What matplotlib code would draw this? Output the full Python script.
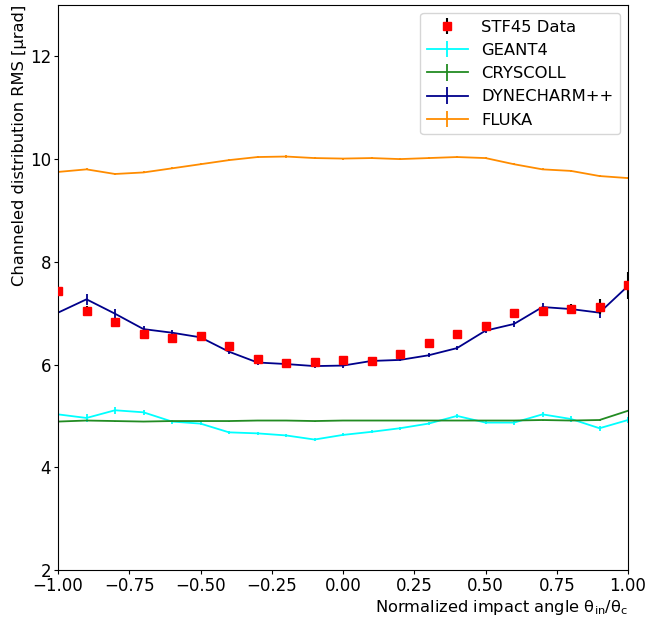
import matplotlib
matplotlib.use("Agg")
import matplotlib.pyplot as plt
import numpy as np

plt.rcParams['mathtext.default'] = 'regular'

angles = np.round(np.linspace(-1.0, 1.0, 21), 2)

data_vals = [7.43, 7.04, 6.82, 6.59, 6.51, 6.55, 6.36, 6.10, 6.03, 6.05, 6.09,
             6.06, 6.20, 6.42, 6.59, 6.76, 7.01, 7.04, 7.08, 7.13, 7.54]
data_err = [0.06, 0.10, 0.08, 0.06, 0.05, 0.05, 0.05, 0.04, 0.04, 0.04, 0.05,
            0.04, 0.05, 0.05, 0.05, 0.06, 0.07, 0.08, 0.10, 0.15, 0.26]

geant4 = [5.03, 4.96, 5.11, 5.07, 4.89, 4.85, 4.68, 4.66, 4.62, 4.54, 4.63,
          4.69, 4.76, 4.85, 5.00, 4.87, 4.87, 5.03, 4.94, 4.76, 4.92]
geant4_err = [0.04, 0.07, 0.07, 0.05, 0.04, 0.03, 0.03, 0.03, 0.03, 0.03, 0.03,
              0.03, 0.03, 0.03, 0.04, 0.03, 0.04, 0.05, 0.05, 0.05, 0.06]

cryscoll = [4.89, 4.91, 4.90, 4.89, 4.90, 4.90, 4.90, 4.91, 4.91, 4.90, 4.91,
            4.91, 4.91, 4.91, 4.91, 4.91, 4.91, 4.92, 4.91, 4.92, 5.10]
cryscoll_err = [0.01] * 21

dynecharm = [7.01, 7.27, 6.99, 6.69, 6.62, 6.53, 6.25, 6.04, 6.01, 5.97, 5.98,
             6.07, 6.09, 6.18, 6.32, 6.66, 6.79, 7.12, 7.08, 7.01, 7.53]
dynecharm_err = [0.05, 0.11, 0.09, 0.06, 0.05, 0.04, 0.04, 0.04, 0.04, 0.04, 0.04,
                 0.03, 0.03, 0.04, 0.04, 0.05, 0.06, 0.08, 0.08, 0.10, 0.12]

fluka = [9.75, 9.80, 9.71, 9.74, 9.82, 9.90, 9.98, 10.04, 10.05, 10.02, 10.01,
         10.02, 10.00, 10.02, 10.04, 10.02, 9.90, 9.80, 9.77, 9.67, 9.63]
fluka_err = [0.02] * 21

fig = plt.figure(figsize=(6.48, 6.18), dpi=100)
ax = fig.add_axes([58/648, 48/618, 570/648, 565/618])

h_g = ax.errorbar(angles, geant4, yerr=geant4_err, color='cyan', lw=1.3, label='GEANT4')
h_c = ax.errorbar(angles, cryscoll, yerr=cryscoll_err, color='forestgreen', lw=1.3, label='CRYSCOLL')
h_d = ax.errorbar(angles, dynecharm, yerr=dynecharm_err, color='darkblue', lw=1.3, label='DYNECHARM++')
h_f = ax.errorbar(angles, fluka, yerr=fluka_err, color='darkorange', lw=1.3, label='FLUKA')
h_data = ax.errorbar(angles, data_vals, yerr=data_err, fmt='s', color='red', ecolor='black',
                     elinewidth=1.5, markersize=6, label='STF45 Data', zorder=3)

ax.set_xlim(-1, 1)
ax.set_ylim(2, 13)
ax.set_yticks([2, 4, 6, 8, 10, 12])
ax.tick_params(labelsize=12, length=3, pad=2)
ax.set_xlabel(r'Normalized impact angle $\theta_{in}/\theta_c$', fontsize=11.7, loc='right', labelpad=2)
ax.set_ylabel('Channeled distribution RMS [μrad]', fontsize=11.7, loc='top', labelpad=2)

ax.legend(handles=[h_data, h_g, h_c, h_d, h_f], loc='upper right', fontsize=11.8,
          handlelength=2.5)

fig.savefig('out.png', dpi=100)
